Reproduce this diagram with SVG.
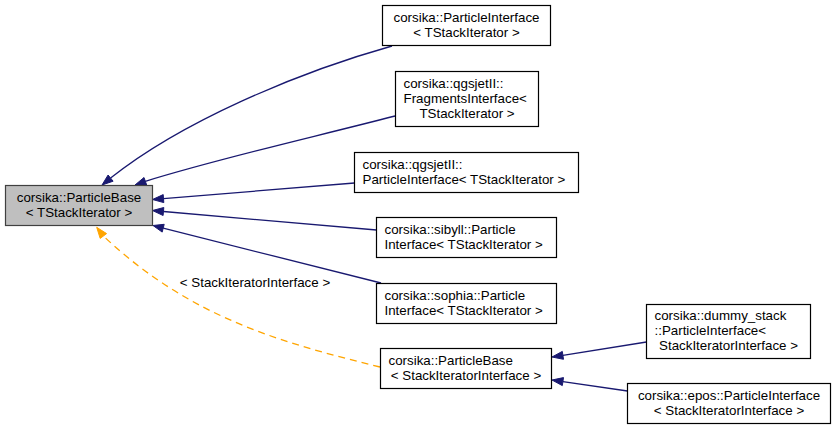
<svg xmlns="http://www.w3.org/2000/svg" width="836" height="431" viewBox="0 0 836 431">
<style>
  .box { fill: #ffffff; stroke: #000000; stroke-width: 1.2; }
  .base { fill: #bfbfbf; stroke: #404040; stroke-width: 1.2; }
  text { font-family: "Liberation Sans", Arial, Helvetica, sans-serif; font-size: 13.33px; fill: #000000; }
  .c { text-anchor: middle; }
  .l { text-anchor: start; }
  .e { fill: none; stroke: #191970; stroke-width: 1.3; }
  .ah { fill: #191970; stroke: #191970; stroke-width: 1; }
  .d { fill: none; stroke: #ffa500; stroke-width: 1.3; stroke-dasharray: 7,5; }
  .ahd { fill: #ffa500; stroke: #ffa500; stroke-width: 1; }
</style>
<rect width="836" height="431" fill="#ffffff"/>

<g id="connectors">
  <path class="e" d="M392,46 C296,73 181,122 110.6,178.1"/>
  <polygon class="ah" points="102,185 113.1,181.2 108.1,175"/>

  <path class="e" d="M395,116 C310,138 220,158 145.3,181.3"/>
  <polygon class="ah" points="135,185 146.7,185.1 144,177.5"/>

  <path class="e" d="M354.5,183 L163.5,198.6"/>
  <polygon class="ah" points="152.5,199.5 163.8,202.6 163.2,194.6"/>

  <path class="e" d="M376.5,230 L163.5,211.5"/>
  <polygon class="ah" points="152.5,210.5 163.1,215.5 163.8,207.5"/>

  <path class="e" d="M381,283 L163.2,228.2"/>
  <polygon class="ah" points="153,225.5 162.2,232.1 164.2,224.3"/>

  <path class="d" d="M380,367 C283,343 190,318 103.4,236"/>
  <polygon class="ahd" points="96.7,227.3 100.2,238.4 106.6,233.6"/>
  <text class="c" x="255" y="287">&lt; StackIteratorInterface &gt;</text>

  <path class="e" d="M646.5,342 L562.9,355.3"/>
  <polygon class="ah" points="552,357 563.5,359.3 562.3,351.4"/>

  <path class="e" d="M627.5,391 L562.9,381.6"/>
  <polygon class="ah" points="552,380 562.3,385.6 563.5,377.6"/>
</g>

<g id="node_base">
  <rect class="base" x="5.5" y="185.5" width="147" height="40"/>
  <text class="c" x="79" y="202">corsika::ParticleBase</text>
  <text class="c" x="79" y="217">&lt; TStackIterator &gt;</text>
</g>

<g id="node_particleinterface">
  <rect class="box" x="382.5" y="5.5" width="168" height="40"/>
  <text class="c" x="466.5" y="22">corsika::ParticleInterface</text>
  <text class="c" x="466.5" y="37">&lt; TStackIterator &gt;</text>
</g>

<g id="node_qgsjet_fragments">
  <rect class="box" x="395.5" y="71.5" width="143" height="55"/>
  <text class="l" x="403.5" y="87.5">corsika::qgsjetII::</text>
  <text class="l" x="403.5" y="102.5">FragmentsInterface&lt;</text>
  <text class="c" x="467" y="117.5">TStackIterator &gt;</text>
</g>

<g id="node_qgsjet_particle">
  <rect class="box" x="354.5" y="152.5" width="224" height="40"/>
  <text class="l" x="362.5" y="168.5">corsika::qgsjetII::</text>
  <text class="l" x="362.5" y="183.5">ParticleInterface&lt; TStackIterator &gt;</text>
</g>

<g id="node_sibyll">
  <rect class="box" x="376.5" y="217.5" width="180" height="40"/>
  <text class="l" x="384.5" y="233.5">corsika::sibyll::Particle</text>
  <text class="l" x="384.5" y="248.5">Interface&lt; TStackIterator &gt;</text>
</g>

<g id="node_sophia">
  <rect class="box" x="376.5" y="283.5" width="180" height="40"/>
  <text class="l" x="384.5" y="299.5">corsika::sophia::Particle</text>
  <text class="l" x="384.5" y="314.5">Interface&lt; TStackIterator &gt;</text>
</g>

<g id="node_particlebase_sii">
  <rect class="box" x="380.5" y="348.5" width="171" height="40"/>
  <text class="l" x="388.5" y="364.5">corsika::ParticleBase</text>
  <text class="c" x="466" y="379.5">&lt; StackIteratorInterface &gt;</text>
</g>

<g id="node_dummy_stack">
  <rect class="box" x="646.5" y="304.5" width="164" height="54"/>
  <text class="l" x="654.5" y="320">corsika::dummy_stack</text>
  <text class="l" x="654.5" y="335">::ParticleInterface&lt;</text>
  <text class="c" x="728.5" y="350">StackIteratorInterface &gt;</text>
</g>

<g id="node_epos">
  <rect class="box" x="627.5" y="383.5" width="203" height="40"/>
  <text class="c" x="729" y="399.5">corsika::epos::ParticleInterface</text>
  <text class="c" x="729" y="414.5">&lt; StackIteratorInterface &gt;</text>
</g>
</svg>
